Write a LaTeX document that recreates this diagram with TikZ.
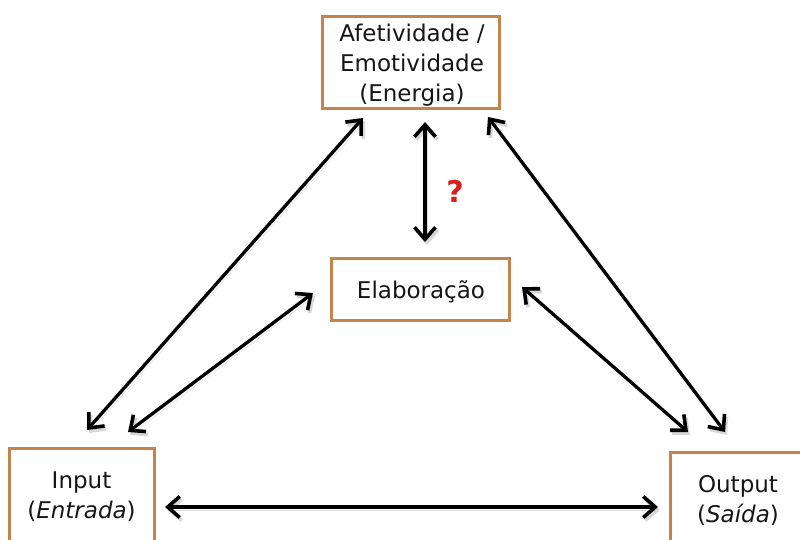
\documentclass[tikz,border=0pt]{standalone}
\usepackage{fontspec}
\setmainfont{DejaVu Sans}
\usetikzlibrary{arrows.meta}
\definecolor{boxline}{HTML}{C4844C}
\definecolor{txt}{HTML}{161616}
\definecolor{qred}{HTML}{D81E1E}
\tikzset{
  barb/.tip={Straight Barb[length=12pt,width=21pt,line width=3.6pt]},
  box/.style={draw=boxline, line width=3pt, fill=white, text=txt,
    inner sep=0pt, align=center, font=\fontsize{23}{30}\selectfont},
  link/.style={line width=3.3pt, draw=black, barb-barb,
    preaction={draw=black!50, opacity=.3, transform canvas={shift={(2pt,-3pt)}}}},
}
\begin{document}
\begin{tikzpicture}[x=1pt,y=-1pt]
\useasboundingbox (0,0) rectangle (800,539);
\fill[white] (0,0) rectangle (800,539);

% boxes
\node[box, minimum width=177pt, minimum height=92pt] (emo) at (410.5,62) {};
\node[txt, align=center, font=\fontsize{23}{30}\selectfont, inner sep=0pt] (emot) at (412,65)
  {Afetividade /\\Emotividade\\(Energia)};
\node[box, minimum width=178pt, minimum height=62pt] (elab) at (420,289) {};
\node[txt, font=\fontsize{23}{30}\selectfont, inner sep=0pt] (elabt) at (421,292) {Elaboração};
\node[box, minimum width=145pt, minimum height=98pt] (inp) at (81.5,497)
  {Input\\(\textit{Entrada})};
\node[box, minimum width=140pt, minimum height=97pt, text width=136pt] (outp) at (740,500.5)
  {\hspace*{-4pt}Output\\\hspace*{-4pt}(\textit{Saída})};

% connector end points
\coordinate (eL) at (363,118);
\coordinate (eM) at (425,122);
\coordinate (eR) at (488,117);
\coordinate (bM) at (425,242);
\coordinate (iT) at (87,430);
\coordinate (iR) at (128,432);
\coordinate (lE) at (313,293);
\coordinate (rE) at (522,287);
\coordinate (oL) at (688,432);
\coordinate (oT) at (725,432);
\coordinate (iB) at (165,507);
\coordinate (oB) at (658,507);

% connectors
\draw[link] (eL) -- (iT);
\draw[link] (eM) -- (bM);
\draw[link] (eR) -- (oT);
\draw[link] (lE) -- (iR);
\draw[link] (rE) -- (oL);
\draw[link] (iB) -- (oB);

\node[text=qred, font=\fontsize{30}{30}\selectfont\bfseries] (q) at (455,191) {?};
\end{tikzpicture}
\end{document}
